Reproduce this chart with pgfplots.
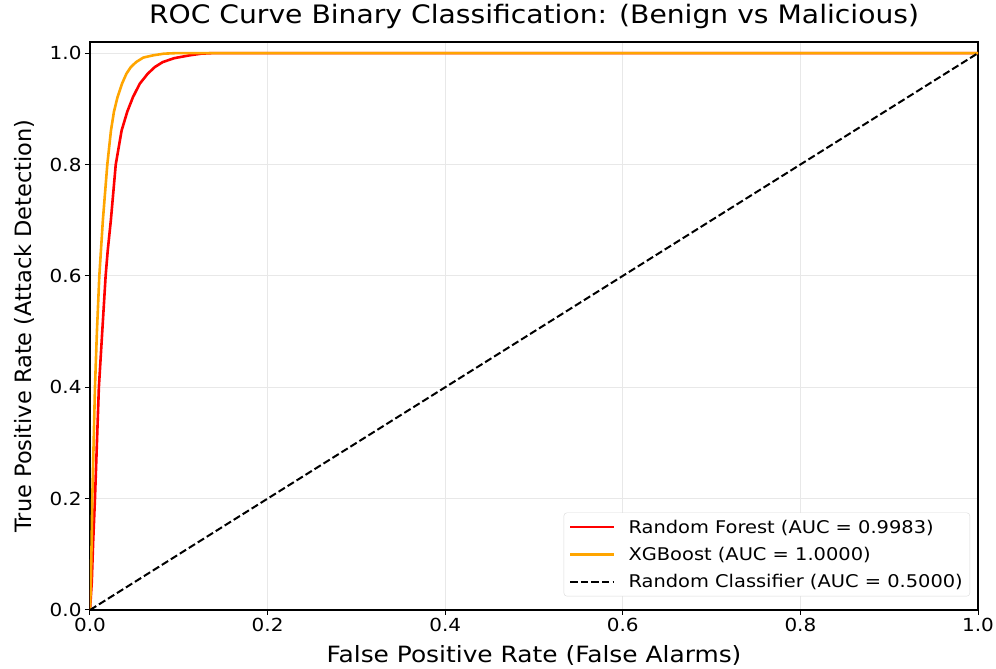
\documentclass[border=0pt]{standalone}
\usepackage{pgfplots}
\pgfplotsset{compat=1.18}
\usepackage{fontspec}
\setmainfont[FakeStretch=1.11]{DejaVu Sans}
\newfontfamily\ylabfont{DejaVu Sans}
\definecolor{rfred}{RGB}{255,0,0}
\definecolor{xgorange}{RGB}{255,165,0}
\begin{document}
\begin{tikzpicture}
\begin{axis}[
  scale only axis,
  width=888pt, height=568pt,
  xmin=0, xmax=1, ymin=0, ymax=1.02,
  xtick={0,0.2,0.4,0.6,0.8,1.0},
  ytick={0,0.2,0.4,0.6,0.8,1.0},
  xticklabel style={/pgf/number format/.cd,fixed,fixed zerofill,precision=1},
  yticklabel style={/pgf/number format/.cd,fixed,fixed zerofill,precision=1},
  /pgf/number format/assume math mode=true,
  tick label style={font=\fontsize{18}{21}\selectfont},
  xlabel style={font=\fontsize{22.4}{26}\selectfont, at={(axis description cs:0.5,0)}, anchor=base, yshift=-53pt},
  ylabel style={font=\ylabfont\fontsize{22.5}{26}\selectfont, at={(axis description cs:0,0.5)}, anchor=center, yshift=66pt},
  title style={font=\fontsize{25.4}{30}\selectfont, at={(axis description cs:0.5,1)}, anchor=base, yshift=12pt},
  title={ROC Curve Binary Classification: (Benign vs Malicious)},
  xlabel={False Positive Rate (False Alarms)},
  ylabel={True Positive Rate (Attack Detection)},
  grid=major,
  major grid style={gray!18, line width=0.8pt},
  tick align=outside,
  xtick pos=bottom, ytick pos=left,
  major tick length=5pt,
  every tick/.style={black, line width=1pt},
  axis line style={line width=1.2pt},
  legend style={at={(0.991,0.024)}, anchor=south east, font=\fontsize{17.5}{21}\selectfont,
    draw=gray!30, rounded corners=3pt, row sep=8.5pt, inner xsep=5pt, inner ysep=5pt,
    /tikz/every odd column/.append style={column sep=11pt}},
  legend cell align=left,
  legend image code/.code={\draw[#1] (0pt,0pt) -- (44pt,0pt);},
]
\addplot[rfred, line width=2.6pt] coordinates {
(0,0) (0.002,0.05) (0.0035,0.12) (0.0056,0.2) (0.0078,0.3) (0.010,0.4) (0.0138,0.5) (0.0159,0.555) (0.0176,0.6) (0.020,0.646) (0.0235,0.7) (0.029,0.8) (0.0356,0.861) (0.042,0.895) (0.0484,0.921) (0.056,0.945) (0.065,0.963) (0.073,0.975) (0.082,0.984) (0.095,0.991) (0.112,0.996) (0.125,0.999) (0.138,1.0) (1,1)
};
\addlegendentry{Random Forest (AUC = 0.9983)}
\addplot[xgorange, line width=2.6pt] coordinates {
(0,0) (0.001,0.05) (0.0018,0.12) (0.0026,0.2) (0.0041,0.3) (0.0056,0.4) (0.0078,0.5) (0.0105,0.6) (0.0145,0.7) (0.0195,0.8) (0.0236,0.861) (0.027,0.895) (0.031,0.921) (0.036,0.945) (0.041,0.963) (0.046,0.975) (0.052,0.984) (0.06,0.992) (0.071,0.996) (0.083,0.999) (0.097,1.0) (1,1)
};
\addlegendentry{XGBoost (AUC = 1.0000)}
\addplot[black, line width=2pt, dash pattern=on 7.4pt off 3.2pt] coordinates {(0,0) (1,1)};
\addlegendentry{Random Classifier (AUC = 0.5000)}
\end{axis}
\pgfresetboundingbox
\useasboundingbox (-90pt,-59pt) rectangle (906pt,610pt);
\end{tikzpicture}
\end{document}
